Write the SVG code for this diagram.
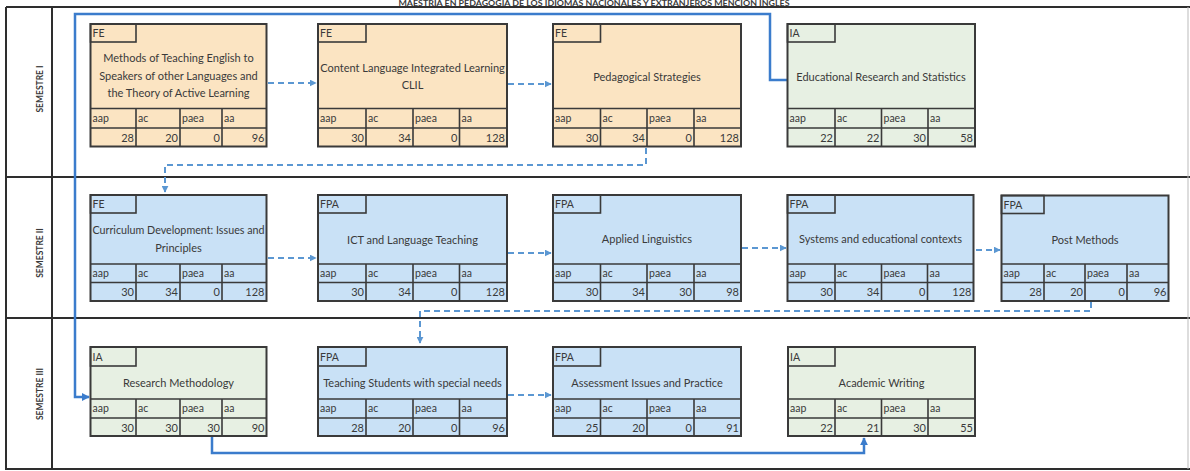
<svg xmlns="http://www.w3.org/2000/svg" width="1190" height="471" viewBox="0 0 1190 471">
<style>
.box{stroke:#3a3a3a;stroke-width:2}
.hc{fill:none;stroke:#3a3a3a;stroke-width:1.6}
.ln{fill:none;stroke:#3a3a3a;stroke-width:1.6}
.fe{fill:#fbe4c2}
.bl{fill:#c9e1f6}
.gr{fill:#e7f0e3}
text{font-family:Lato,"Liberation Sans",sans-serif;fill:#3a3a3a}
.t{font-size:11px;text-anchor:middle}
.s{font-size:10.5px}
.v{font-size:11px;text-anchor:end}
.sem{font-size:8.5px;font-weight:bold;text-anchor:middle}
.frame{stroke:#2e2e2e;stroke-width:2;fill:none}
.solid{fill:none;stroke:#3b7ccc;stroke-width:2.5}
.dash{fill:none;stroke:#5b97d2;stroke-width:2;stroke-dasharray:6 4}
</style>
<defs>
<marker id="ah" viewBox="0 0 10 10" refX="9" refY="5" markerWidth="7" markerHeight="7" markerUnits="userSpaceOnUse" orient="auto"><path d="M0,0 L10,5 L0,10 z" fill="#5b97d2"/></marker>
<marker id="ahs" viewBox="0 0 10 10" refX="9" refY="5" markerWidth="8" markerHeight="8" markerUnits="userSpaceOnUse" orient="auto"><path d="M0,0 L10,5 L0,10 z" fill="#3b7ccc"/></marker>
</defs>
<rect x="0" y="0" width="1190" height="471" fill="#ffffff"/>
<text x="594" y="5.5" font-size="6.5" font-weight="bold" text-anchor="middle" textLength="391" lengthAdjust="spacingAndGlyphs">MAESTRIA EN PEDAGOGIA DE LOS IDIOMAS NACIONALES Y EXTRANJEROS MENCION INGLES</text>
<g id="frame">
<path class="frame" d="M6,7 H1190 M6,7 V469 H1190 M52,7 V469 M6,177 H1190 M6,318 H1190"/>
<path d="M1188,7 V469" stroke="#bbbbbb" stroke-width="1" fill="none"/>
<text class="sem" transform="translate(43,89) rotate(-90)">SEMESTRE I</text>
<text class="sem" transform="translate(43,253) rotate(-90)">SEMESTRE II</text>
<text class="sem" transform="translate(43,394) rotate(-90)">SEMESTRE III</text>
</g>
<g id="connectors">
<path class="solid" d="M787,80 H770 V14 H75 V397 H89" marker-end="url(#ahs)"/>
<path class="solid" d="M212,437 V453 H864 V438" marker-end="url(#ahs)"/>
<path class="dash" d="M268,83 H316" marker-end="url(#ah)"/>
<path class="dash" d="M508,84 H551" marker-end="url(#ah)"/>
<path class="dash" d="M646,148 V165 H165 V192" marker-end="url(#ah)"/>
<path class="dash" d="M268,258 H316" marker-end="url(#ah)"/>
<path class="dash" d="M508,253 H551" marker-end="url(#ah)"/>
<path class="dash" d="M742,248 H786" marker-end="url(#ah)"/>
<path class="dash" d="M976,250 H1000" marker-end="url(#ah)"/>
<path class="dash" d="M1091,302 V311 H420 V343" marker-end="url(#ah)"/>
<path class="dash" d="M508,395 H551" marker-end="url(#ah)"/>
</g>
<g id="n1">
<rect class="box fe" x="90.5" y="24" width="176" height="122.5"/>
<rect class="hc" x="90.5" y="24" width="45.5" height="18"/>
<path class="ln" d="M90.5,108.5 H266.5 M90.5,128 H266.5 M136,108.5 V146.5 M180,108.5 V146.5 M222,108.5 V146.5"/>
<text class="t" x="178.5" y="62">Methods of Teaching English to</text>
<text class="t" x="178.5" y="79.5">Speakers of other Languages and</text>
<text class="t" x="178.5" y="97">the Theory of Active Learning</text>
<text class="s" x="92.5" y="37">FE</text>
<text class="s" x="92.5" y="122">aap</text><text class="s" x="138" y="122">ac</text><text class="s" x="182" y="122">paea</text><text class="s" x="224" y="122">aa</text>
<text class="v" x="134" y="141.5">28</text><text class="v" x="178" y="141.5">20</text><text class="v" x="220" y="141.5">0</text><text class="v" x="264.5" y="141.5">96</text>
</g>
<g id="n2">
<rect class="box fe" x="318" y="24" width="189" height="122.5"/>
<rect class="hc" x="318" y="24" width="48" height="18"/>
<path class="ln" d="M318,108.5 H507 M318,128 H507 M366,108.5 V146.5 M413,108.5 V146.5 M459.5,108.5 V146.5"/>
<text class="t" x="412.5" y="72">Content Language Integrated Learning</text>
<text class="t" x="412.5" y="89">CLIL</text>
<text class="s" x="320" y="37">FE</text>
<text class="s" x="320" y="122">aap</text><text class="s" x="368" y="122">ac</text><text class="s" x="415" y="122">paea</text><text class="s" x="461.5" y="122">aa</text>
<text class="v" x="364" y="141.5">30</text><text class="v" x="411" y="141.5">34</text><text class="v" x="457.5" y="141.5">0</text><text class="v" x="505" y="141.5">128</text>
</g>
<g id="n3">
<rect class="box fe" x="553" y="24" width="188" height="122.5"/>
<rect class="hc" x="553" y="24" width="47.5" height="18"/>
<path class="ln" d="M553,108.5 H741 M553,128 H741 M600.5,108.5 V146.5 M647,108.5 V146.5 M694,108.5 V146.5"/>
<text class="t" x="647" y="81">Pedagogical Strategies</text>
<text class="s" x="555" y="37">FE</text>
<text class="s" x="555" y="122">aap</text><text class="s" x="602.5" y="122">ac</text><text class="s" x="649" y="122">paea</text><text class="s" x="696" y="122">aa</text>
<text class="v" x="598.5" y="141.5">30</text><text class="v" x="645" y="141.5">34</text><text class="v" x="692" y="141.5">0</text><text class="v" x="739" y="141.5">128</text>
</g>
<g id="n4">
<rect class="box gr" x="787.5" y="24" width="187.5" height="122.5"/>
<rect class="hc" x="787.5" y="24" width="47.5" height="18"/>
<path class="ln" d="M787.5,108.5 H975 M787.5,128 H975 M835,108.5 V146.5 M881.5,108.5 V146.5 M928,108.5 V146.5"/>
<text class="t" x="881" y="81">Educational Research and Statistics</text>
<text class="s" x="789.5" y="37">IA</text>
<text class="s" x="789.5" y="122">aap</text><text class="s" x="837" y="122">ac</text><text class="s" x="883.5" y="122">paea</text><text class="s" x="930" y="122">aa</text>
<text class="v" x="833" y="141.5">22</text><text class="v" x="879.5" y="141.5">22</text><text class="v" x="926" y="141.5">30</text><text class="v" x="973" y="141.5">58</text>
</g>
<g id="n5">
<rect class="box bl" x="90.5" y="195" width="176" height="106"/>
<rect class="hc" x="90.5" y="195" width="45.5" height="18"/>
<path class="ln" d="M90.5,264 H266.5 M90.5,282.5 H266.5 M136,264 V301 M180,264 V301 M222,264 V301"/>
<text class="t" x="178.5" y="234" textLength="172" lengthAdjust="spacingAndGlyphs">Curriculum Development: Issues and</text>
<text class="t" x="178.5" y="252">Principles</text>
<text class="s" x="92.5" y="208">FE</text>
<text class="s" x="92.5" y="277">aap</text><text class="s" x="138" y="277">ac</text><text class="s" x="182" y="277">paea</text><text class="s" x="224" y="277">aa</text>
<text class="v" x="134" y="296">30</text><text class="v" x="178" y="296">34</text><text class="v" x="220" y="296">0</text><text class="v" x="264.5" y="296">128</text>
</g>
<g id="n6">
<rect class="box bl" x="318" y="195" width="189" height="106"/>
<rect class="hc" x="318" y="195" width="48" height="18"/>
<path class="ln" d="M318,264 H507 M318,282.5 H507 M366,264 V301 M413,264 V301 M459.5,264 V301"/>
<text class="t" x="412.5" y="244">ICT and Language Teaching</text>
<text class="s" x="320" y="208">FPA</text>
<text class="s" x="320" y="277">aap</text><text class="s" x="368" y="277">ac</text><text class="s" x="415" y="277">paea</text><text class="s" x="461.5" y="277">aa</text>
<text class="v" x="364" y="296">30</text><text class="v" x="411" y="296">34</text><text class="v" x="457.5" y="296">0</text><text class="v" x="505" y="296">128</text>
</g>
<g id="n7">
<rect class="box bl" x="553" y="195" width="188" height="106"/>
<rect class="hc" x="553" y="195" width="47.5" height="18"/>
<path class="ln" d="M553,264 H741 M553,282.5 H741 M600.5,264 V301 M647,264 V301 M694,264 V301"/>
<text class="t" x="647" y="243">Applied Linguistics</text>
<text class="s" x="555" y="208">FPA</text>
<text class="s" x="555" y="277">aap</text><text class="s" x="602.5" y="277">ac</text><text class="s" x="649" y="277">paea</text><text class="s" x="696" y="277">aa</text>
<text class="v" x="598.5" y="296">30</text><text class="v" x="645" y="296">34</text><text class="v" x="692" y="296">30</text><text class="v" x="739" y="296">98</text>
</g>
<g id="n8">
<rect class="box bl" x="787.5" y="195" width="186" height="106"/>
<rect class="hc" x="787.5" y="195" width="47.5" height="18"/>
<path class="ln" d="M787.5,264 H973.5 M787.5,282.5 H973.5 M835,264 V301 M881.5,264 V301 M927.5,264 V301"/>
<text class="t" x="880.5" y="243">Systems and educational contexts</text>
<text class="s" x="789.5" y="208">FPA</text>
<text class="s" x="789.5" y="277">aap</text><text class="s" x="837" y="277">ac</text><text class="s" x="883.5" y="277">paea</text><text class="s" x="929.5" y="277">aa</text>
<text class="v" x="833" y="296">30</text><text class="v" x="879.5" y="296">34</text><text class="v" x="925.5" y="296">0</text><text class="v" x="971.5" y="296">128</text>
</g>
<g id="n9">
<rect class="box bl" x="1001.5" y="195.5" width="167" height="105.5"/>
<rect class="hc" x="1001.5" y="195.5" width="42.5" height="18"/>
<path class="ln" d="M1001.5,264 H1168.5 M1001.5,282.5 H1168.5 M1044,264 V301 M1085,264 V301 M1127,264 V301"/>
<text class="t" x="1085" y="244">Post Methods</text>
<text class="s" x="1003.5" y="208.5">FPA</text>
<text class="s" x="1003.5" y="277">aap</text><text class="s" x="1046" y="277">ac</text><text class="s" x="1087" y="277">paea</text><text class="s" x="1129" y="277">aa</text>
<text class="v" x="1042" y="296">28</text><text class="v" x="1083" y="296">20</text><text class="v" x="1125" y="296">0</text><text class="v" x="1166.5" y="296">96</text>
</g>
<g id="n10">
<rect class="box gr" x="90.5" y="347" width="176" height="89"/>
<rect class="hc" x="90.5" y="347" width="45.5" height="19"/>
<path class="ln" d="M90.5,399 H266.5 M90.5,418 H266.5 M136,399 V436 M180,399 V436 M222,399 V436"/>
<text class="t" x="178.5" y="387">Research Methodology</text>
<text class="s" x="92.5" y="360.5">IA</text>
<text class="s" x="92.5" y="412">aap</text><text class="s" x="138" y="412">ac</text><text class="s" x="182" y="412">paea</text><text class="s" x="224" y="412">aa</text>
<text class="v" x="134" y="431.5">30</text><text class="v" x="178" y="431.5">30</text><text class="v" x="220" y="431.5">30</text><text class="v" x="264.5" y="431.5">90</text>
</g>
<g id="n11">
<rect class="box bl" x="318" y="347" width="189" height="89"/>
<rect class="hc" x="318" y="347" width="48" height="19"/>
<path class="ln" d="M318,399 H507 M318,418 H507 M366,399 V436 M413,399 V436 M459.5,399 V436"/>
<text class="t" x="412.5" y="387">Teaching Students with special needs</text>
<text class="s" x="320" y="360.5">FPA</text>
<text class="s" x="320" y="412">aap</text><text class="s" x="368" y="412">ac</text><text class="s" x="415" y="412">paea</text><text class="s" x="461.5" y="412">aa</text>
<text class="v" x="364" y="431.5">28</text><text class="v" x="411" y="431.5">20</text><text class="v" x="457.5" y="431.5">0</text><text class="v" x="505" y="431.5">96</text>
</g>
<g id="n12">
<rect class="box bl" x="553" y="347" width="188" height="89"/>
<rect class="hc" x="553" y="347" width="47.5" height="19"/>
<path class="ln" d="M553,399 H741 M553,418 H741 M600.5,399 V436 M647,399 V436 M694,399 V436"/>
<text class="t" x="647" y="387">Assessment Issues and Practice</text>
<text class="s" x="555" y="360.5">FPA</text>
<text class="s" x="555" y="412">aap</text><text class="s" x="602.5" y="412">ac</text><text class="s" x="649" y="412">paea</text><text class="s" x="696" y="412">aa</text>
<text class="v" x="598.5" y="431.5">25</text><text class="v" x="645" y="431.5">20</text><text class="v" x="692" y="431.5">0</text><text class="v" x="739" y="431.5">91</text>
</g>
<g id="n13">
<rect class="box gr" x="788" y="347" width="187" height="89"/>
<rect class="hc" x="788" y="347" width="47" height="19"/>
<path class="ln" d="M788,399 H975 M788,418 H975 M835,399 V436 M881.5,399 V436 M928,399 V436"/>
<text class="t" x="881.5" y="387">Academic Writing</text>
<text class="s" x="790" y="360.5">IA</text>
<text class="s" x="790" y="412">aap</text><text class="s" x="837" y="412">ac</text><text class="s" x="883.5" y="412">paea</text><text class="s" x="930" y="412">aa</text>
<text class="v" x="833" y="431.5">22</text><text class="v" x="879.5" y="431.5">21</text><text class="v" x="926" y="431.5">30</text><text class="v" x="973" y="431.5">55</text>
</g>
</svg>
